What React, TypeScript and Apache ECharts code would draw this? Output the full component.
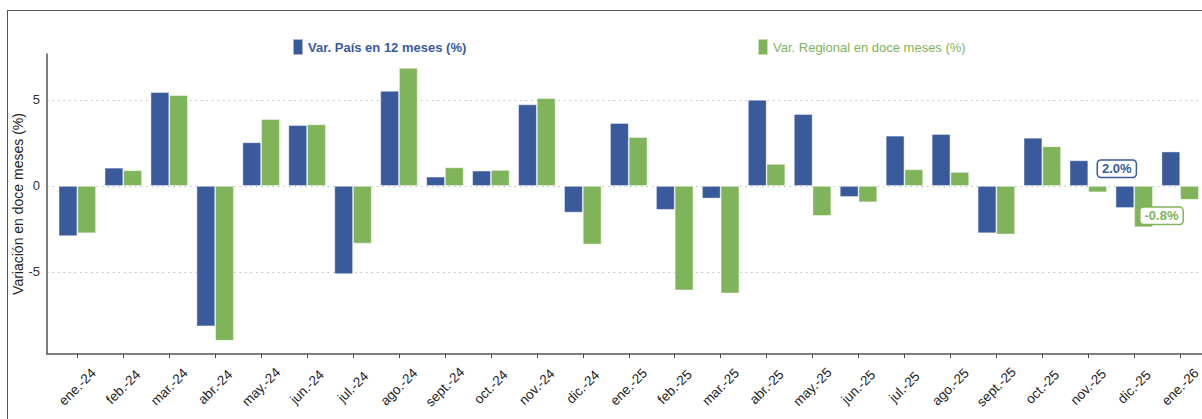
import React, { useEffect, useRef } from "react";
import * as echarts from "echarts";

const categories = [
  "ene.-24", "feb.-24", "mar.-24", "abr.-24", "may.-24", "jun.-24", "jul.-24", "ago.-24",
  "sept.-24", "oct.-24", "nov.-24", "dic.-24", "ene.-25", "feb.-25", "mar.-25", "abr.-25",
  "may.-25", "jun.-25", "jul.-25", "ago.-25", "sept.-25", "oct.-25", "nov.-25", "dic.-25", "ene.-26",
];
const pais = [
  -2.92, 1.06, 5.46, -8.16, 2.54, 3.54, -5.13, 5.53, 0.54, 0.89, 4.74, -1.55, 3.66,
  -1.39, -0.73, 5.01, 4.18, -0.64, 2.92, 3.02, -2.75, 2.8, 1.49, -1.28, 2.0,
];
const regional = [
  -2.75, 0.91, 5.28, -9.0, 3.89, 3.58, -3.35, 6.86, 1.08, 0.93, 5.11, -3.4, 2.84,
  -6.07, -6.25, 1.28, -1.74, -0.95, 0.97, 0.81, -2.82, 2.3, -0.37, -2.4, -0.8,
];
const yTicks = [-5, 0, 5];
const seriesNames = ["Var. País en 12 meses (%)", "Var. Regional en doce meses (%)"];
const yAxisName = "Variación en doce meses (%)";

const BLUE = "#3a5b9b";
const GREEN = "#80b45b";
const FONT = "'Liberation Sans', Arial, sans-serif";

function makeData(vals: number[], color: string, offset: number[]) {
  const last = vals.length - 1;
  return vals.map((v, i) => {
    if (i !== last) return [i, v];
    return {
      value: [i, v],
      label: {
        show: true,
        position: "inside",
        offset,
        formatter: (p: any) => `${p.value[1].toFixed(1)}%`,
        color,
        fontFamily: FONT,
        fontWeight: "bold",
        fontSize: 13,
        backgroundColor: "#fff",
        borderColor: color,
        borderWidth: 1.5,
        borderRadius: 3,
        padding: [2, 4, 1, 4],
      },
    };
  });
}

export default function App() {
  const ref = useRef<HTMLDivElement>(null);
  useEffect(() => {
    if (!ref.current) return;
    const chart = echarts.init(ref.current, undefined, { renderer: "svg" });
    const idx = categories.map((_, i) => i);
    chart.setOption({
      animation: false,
      textStyle: { fontFamily: FONT },
      legend: [
        {
          data: [{ name: seriesNames[0] }],
          left: 287,
          top: 33,
          itemWidth: 10,
          itemHeight: 16,
          icon: "rect",
          textStyle: { color: BLUE, fontWeight: "bold", fontSize: 13, fontFamily: FONT },
          selectedMode: false,
        },
        {
          data: [{ name: seriesNames[1] }],
          left: 752,
          top: 33,
          itemWidth: 10,
          itemHeight: 16,
          icon: "rect",
          textStyle: { color: GREEN, fontSize: 13, fontFamily: FONT },
          selectedMode: false,
        },
      ],
      grid: { left: 47, top: 54, width: 1163.5, height: 300, containLabel: false, outerBoundsMode: "none" },
      xAxis: {
        type: "value",
        min: -0.66,
        max: 24.66,
        axisLine: { show: true, onZero: false, lineStyle: { color: "#555", width: 1.5 } },
        axisTick: { show: true, customValues: idx, length: 4, lineStyle: { color: "#444" } },
        axisLabel: {
          customValues: idx,
          formatter: (v: number) => categories[Math.round(v)] ?? "",
          rotate: 45,
          align: "center",
          verticalAlign: "middle",
          margin: 33,
          color: "#222",
          fontSize: 13.5,
          fontFamily: FONT,
        },
        splitLine: { show: false },
      },
      yAxis: {
        type: "value",
        min: -9.77,
        max: 7.67,
        name: yAxisName,
        nameLocation: "middle",
        nameGap: 22,
        nameMoveOverlap: false,
        nameTextStyle: { color: "#222", fontSize: 14, fontFamily: FONT },
        axisLine: { show: true, onZero: false, lineStyle: { color: "#555", width: 1.5 } },
        axisTick: { show: false, customValues: yTicks },
        axisLabel: { customValues: yTicks, color: "#333", fontSize: 13, margin: 7, fontFamily: FONT },
        splitLine: { show: true, lineStyle: { color: "#bbb", type: [1.5, 4], width: 1 } },
      },
      series: [
        {
          name: seriesNames[0],
          type: "bar",
          barWidth: 18.7,
          barGap: "0%",
          itemStyle: { color: BLUE, borderColor: "rgba(255,255,255,0.55)", borderWidth: 0.8 },
          data: makeData(pais, BLUE, [-54, 0]),
        },
        {
          name: seriesNames[1],
          type: "bar",
          barWidth: 18.7,
          barGap: "0%",
          itemStyle: { color: GREEN, borderColor: "rgba(255,255,255,0.55)", borderWidth: 0.8 },
          data: makeData(regional, GREEN, [-28, 23]),
        },
      ],
    });
    return () => chart.dispose();
  }, []);
  return (
    <div style={{ position: "fixed", left: 0, top: 0, width: 1202, height: 419, overflow: "hidden", background: "#fff" }}>
      <div
        style={{
          position: "absolute",
          left: 7,
          top: 10,
          width: 1200,
          height: 420,
          border: "1.5px solid #555",
          boxSizing: "border-box",
        }}
      />
      <div ref={ref} style={{ position: "absolute", left: 0, top: 0, width: 1202, height: 419 }} />
    </div>
  );
}
